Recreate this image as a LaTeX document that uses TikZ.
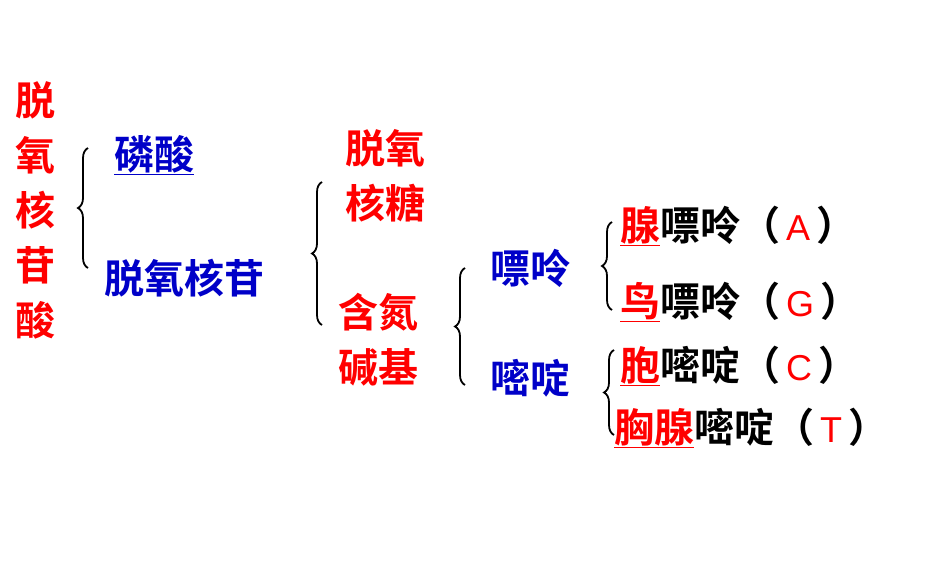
\documentclass[tikz,border=0pt]{standalone}
\usepackage{fontspec}
\newfontfamily\cjk{Noto Sans CJK SC Bold}
\newfontfamily\lat{Liberation Sans}
\usetikzlibrary{decorations.pathreplacing}
\definecolor{myred}{RGB}{255,0,0}
\definecolor{myblue}{RGB}{0,0,200}
\tikzset{
 t/.style={font=\cjk\fontsize{40}{44}\selectfont, inner sep=0pt, anchor=west},
 r/.style={t,text=myred}, b/.style={t,text=myblue}, k/.style={t,text=black},
 br/.style={decorate,decoration={brace,amplitude=10pt,aspect=0.5},line width=1.8pt}
}
\newcommand{\myLet}[1]{\textcolor{myred}{\lat\fontsize{36}{40}\selectfont\,#1\,}}
\begin{document}
\begin{tikzpicture}[x=1pt,y=-1pt]
\useasboundingbox (0,0) rectangle (950,570);
\node[r,anchor=center,align=center,font=\cjk\fontsize{40}{55}\selectfont] (root) at (35,210) {脱\\氧\\核\\苷\\酸};
\draw[br] (88,268) -- (88,148);
\node[b] (p) at (114,155) {\underline{磷酸}};
\node[b] (n) at (104,278) {脱氧核苷};
\draw[br] (322,325) -- (322,182);
\node[r,align=center,anchor=center,font=\cjk\fontsize{40}{55}\selectfont] (s) at (385,176) {脱氧\\核糖};
\node[r,align=center,anchor=center,font=\cjk\fontsize{40}{55}\selectfont] (base) at (378,340) {含氮\\碱基};
\draw[br] (465,385) -- (465,268);
\node[b] (pu) at (490,268) {嘌呤};
\node[b] (py) at (490,378) {嘧啶};
\draw[br] (612,310) -- (612,222);
\draw[br] (614,435) -- (614,350);
\node[k] (a) at (620,226) {\textcolor{myred}{\underline{腺}}嘌呤（\myLet{A}）};
\node[k] (g) at (620,302) {\textcolor{myred}{\underline{鸟}}嘌呤（\myLet{G}）};
\node[k] (c) at (620,366) {\textcolor{myred}{\underline{胞}}嘧啶（\myLet{C}）};
\node[k] (tt) at (614,428) {\textcolor{myred}{\underline{胸腺}}嘧啶（\myLet{T}）};
\end{tikzpicture}
\end{document}
